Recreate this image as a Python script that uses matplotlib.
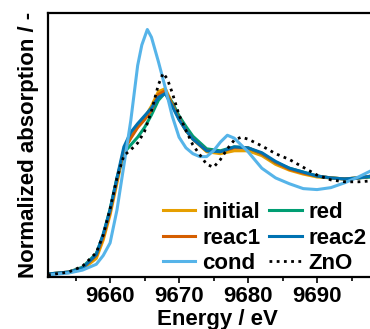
import matplotlib
matplotlib.use("Agg")
import matplotlib.pyplot as plt
from matplotlib.ticker import MultipleLocator, FixedLocator

plt.rcParams['font.family'] = ['Liberation Sans', 'DejaVu Sans']
plt.rcParams['font.weight'] = 'bold'
plt.rcParams['axes.labelweight'] = 'bold'

# ---- data ----
energy = [9651, 9654, 9656, 9658, 9659, 9660, 9661, 9662, 9663, 9664, 9665, 9666,
          9667, 9668, 9669, 9670, 9671, 9672, 9674, 9676, 9678, 9680, 9682, 9684,
          9686, 9688, 9690, 9692, 9694, 9696, 9698]
initial = [0.00, 0.015, 0.05, 0.16, 0.35, 0.61, 0.94, 1.27, 1.41, 1.52, 1.61, 1.73,
           1.88, 1.91, 1.76, 1.60, 1.48, 1.39, 1.26, 1.24, 1.27, 1.27, 1.22, 1.13,
           1.07, 1.03, 1.00, 0.99, 0.98, 0.99, 1.01]
red = [0.00, 0.02, 0.07, 0.21, 0.40, 0.67, 0.99, 1.25, 1.33, 1.41, 1.51, 1.64,
       1.79, 1.87, 1.77, 1.63, 1.52, 1.42, 1.29, 1.27, 1.31, 1.30, 1.24, 1.15,
       1.09, 1.05, 1.01, 0.99, 0.98, 0.99, 1.00]
reac1 = [0.00, 0.02, 0.06, 0.19, 0.38, 0.64, 0.97, 1.28, 1.40, 1.51, 1.59, 1.69,
         1.85, 1.89, 1.75, 1.60, 1.48, 1.39, 1.27, 1.26, 1.30, 1.30, 1.24, 1.15,
         1.08, 1.04, 1.01, 0.99, 0.98, 0.99, 1.01]
reac2 = [0.00, 0.02, 0.06, 0.20, 0.41, 0.66, 0.99, 1.31, 1.46, 1.55, 1.63, 1.71,
         1.82, 1.86, 1.73, 1.59, 1.48, 1.39, 1.27, 1.26, 1.31, 1.30, 1.25, 1.16,
         1.09, 1.05, 1.01, 0.99, 0.98, 0.99, 1.01]

cond_energy = [9651, 9654, 9656, 9658, 9659, 9660, 9661, 9662, 9663, 9664, 9664.6,
               9665.4, 9666, 9667, 9668, 9669, 9670, 9671, 9672, 9673, 9674, 9675,
               9676, 9677, 9678, 9680, 9682, 9684, 9686, 9688, 9690, 9692, 9694,
               9696, 9698]
cond = [-0.01, 0.01, 0.04, 0.10, 0.19, 0.32, 0.66, 1.12, 1.58, 2.15, 2.36,
        2.52, 2.44, 2.19, 1.92, 1.63, 1.41, 1.30, 1.24, 1.21, 1.21, 1.27,
        1.36, 1.43, 1.40, 1.26, 1.09, 0.99, 0.93, 0.88, 0.87, 0.89, 0.94,
        1.00, 1.07]

zno_energy = [9651, 9654, 9656, 9658, 9659, 9660, 9661, 9662, 9663, 9664, 9665, 9666,
              9667, 9667.7, 9668.3, 9669, 9670, 9671, 9672, 9673, 9674, 9675, 9676,
              9677, 9678, 9679, 9680, 9682, 9684, 9686, 9688, 9690, 9692, 9694,
              9696, 9698]
zno = [-0.01, 0.02, 0.08, 0.22, 0.40, 0.67, 0.99, 1.22, 1.28, 1.35, 1.47, 1.68,
       1.95, 2.07, 2.01, 1.87, 1.64, 1.48, 1.33, 1.23, 1.13, 1.10, 1.18,
       1.29, 1.38, 1.41, 1.39, 1.32, 1.24, 1.18, 1.10, 1.02, 0.97, 0.95,
       0.95, 0.96]

xticks = [9660, 9670, 9680, 9690]

# ---- figure ----
fig = plt.figure(figsize=(3.7, 3.29), dpi=100)
ax = fig.add_axes([48/370, 52/329, (386-48)/370, (277-13)/329])

lw = 2.2
l_init, = ax.plot(energy, initial, color='#E69F00', lw=lw, label='initial')
l_red, = ax.plot(energy, red, color='#009E73', lw=lw, label='red')
l_r1, = ax.plot(energy, reac1, color='#D55E00', lw=lw, label='reac1')
l_r2, = ax.plot(energy, reac2, color='#0072B2', lw=lw, label='reac2')
l_cond, = ax.plot(cond_energy, cond, color='#56B4E9', lw=lw, label='cond')
l_zno, = ax.plot(zno_energy, zno, color='black', lw=2.0, ls=(0, (1, 1.6)), label='ZnO')

ax.set_xlim(9651, 9700)
ax.set_ylim(-0.031, 2.69)
ax.xaxis.set_major_locator(FixedLocator(xticks))
ax.xaxis.set_minor_locator(MultipleLocator(5))
ax.set_yticks([])
ax.tick_params(axis='x', which='major', direction='out', length=4, width=1.2,
               labelsize=16, pad=2.5)
ax.tick_params(axis='x', which='minor', direction='out', length=3, width=1.2)
for s in ['left', 'bottom', 'top']:
    ax.spines[s].set_linewidth(1.6)
ax.spines['right'].set_visible(False)

ax.set_xlabel('Energy / eV', fontsize=16, fontweight='bold')
ax.xaxis.set_label_coords(0.5, -0.122)
ax.set_ylabel('Normalized absorption / -', fontsize=16, fontweight='bold')
ax.yaxis.set_label_coords(-0.028, 0.5)

fig.legend(handles=[l_init, l_r1, l_cond, l_red, l_r2, l_zno], ncol=2,
           loc='lower left', bbox_to_anchor=(163/370, (329-274)/329),
           bbox_transform=fig.transFigure, frameon=False, fontsize=16,
           handlelength=1.45, handletextpad=0.32, columnspacing=0.4,
           labelspacing=0.2, borderpad=0, borderaxespad=0)

fig.savefig('out.png', dpi=100)
